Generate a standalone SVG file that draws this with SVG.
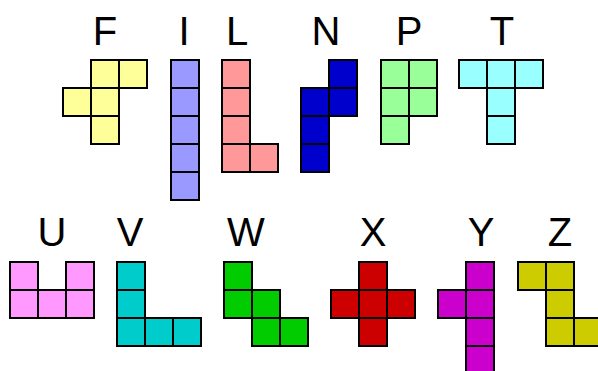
<svg xmlns="http://www.w3.org/2000/svg" width="598" height="371" viewBox="0 0 598 371">
<style>
rect{stroke:#000;stroke-width:2}
text{font-family:"Liberation Sans",Arial,sans-serif;font-size:40px;fill:#000;text-anchor:middle}
.F{fill:#ffff99}.I{fill:#9999ff}.L{fill:#ff9999}.N{fill:#0000cc}.P{fill:#99ff99}.T{fill:#99ffff}
.U{fill:#ff99ff}.V{fill:#00cccc}.W{fill:#00cc00}.X{fill:#cc0000}.Y{fill:#cc00cc}.Z{fill:#cccc00}
</style>
<rect x="0" y="0" width="598" height="371" fill="#fff" style="stroke:none"/>
<g id="F" class="F"><text x="105" y="45">F</text>
<rect x="91" y="60" width="28" height="28"/><rect x="119" y="60" width="28" height="28"/><rect x="63" y="88" width="28" height="28"/><rect x="91" y="88" width="28" height="28"/><rect x="91" y="116" width="28" height="28"/></g>
<g id="I" class="I"><text x="184" y="45">I</text>
<rect x="171" y="60" width="28" height="28"/><rect x="171" y="88" width="28" height="28"/><rect x="171" y="116" width="28" height="28"/><rect x="171" y="144" width="28" height="28"/><rect x="171" y="172" width="28" height="28"/></g>
<g id="L" class="L"><text x="237" y="45">L</text>
<rect x="222" y="60" width="28" height="28"/><rect x="222" y="88" width="28" height="28"/><rect x="222" y="116" width="28" height="28"/><rect x="222" y="144" width="28" height="28"/><rect x="250" y="144" width="28" height="28"/></g>
<g id="N" class="N"><text x="326" y="45">N</text>
<rect x="329" y="60" width="28" height="28"/><rect x="301" y="88" width="28" height="28"/><rect x="329" y="88" width="28" height="28"/><rect x="301" y="116" width="28" height="28"/><rect x="301" y="144" width="28" height="28"/></g>
<g id="P" class="P"><text x="409" y="45">P</text>
<rect x="381" y="60" width="28" height="28"/><rect x="409" y="60" width="28" height="28"/><rect x="381" y="88" width="28" height="28"/><rect x="409" y="88" width="28" height="28"/><rect x="381" y="116" width="28" height="28"/></g>
<g id="T" class="T"><text x="502" y="45">T</text>
<rect x="459" y="60" width="28" height="28"/><rect x="487" y="60" width="28" height="28"/><rect x="515" y="60" width="28" height="28"/><rect x="487" y="88" width="28" height="28"/><rect x="487" y="116" width="28" height="28"/></g>
<g id="U" class="U"><text x="52" y="246">U</text>
<rect x="10" y="262" width="28" height="28"/><rect x="66" y="262" width="28" height="28"/><rect x="10" y="290" width="28" height="28"/><rect x="38" y="290" width="28" height="28"/><rect x="66" y="290" width="28" height="28"/></g>
<g id="V" class="V"><text x="130" y="246">V</text>
<rect x="117" y="262" width="28" height="28"/><rect x="117" y="290" width="28" height="28"/><rect x="117" y="318" width="28" height="28"/><rect x="145" y="318" width="28" height="28"/><rect x="173" y="318" width="28" height="28"/></g>
<g id="W" class="W"><text x="246" y="246">W</text>
<rect x="224" y="262" width="28" height="28"/><rect x="224" y="290" width="28" height="28"/><rect x="252" y="290" width="28" height="28"/><rect x="252" y="318" width="28" height="28"/><rect x="280" y="318" width="28" height="28"/></g>
<g id="X" class="X"><text x="373" y="246">X</text>
<rect x="359" y="262" width="28" height="28"/><rect x="331" y="290" width="28" height="28"/><rect x="359" y="290" width="28" height="28"/><rect x="387" y="290" width="28" height="28"/><rect x="359" y="318" width="28" height="28"/></g>
<g id="Y" class="Y"><text x="481" y="246">Y</text>
<rect x="466" y="262" width="28" height="28"/><rect x="438" y="290" width="28" height="28"/><rect x="466" y="290" width="28" height="28"/><rect x="466" y="318" width="28" height="28"/><rect x="466" y="346" width="28" height="28"/></g>
<g id="Z" class="Z"><text x="560" y="246">Z</text>
<rect x="518" y="262" width="28" height="28"/><rect x="546" y="262" width="28" height="28"/><rect x="546" y="290" width="28" height="28"/><rect x="546" y="318" width="28" height="28"/><rect x="574" y="318" width="28" height="28"/></g>
</svg>
